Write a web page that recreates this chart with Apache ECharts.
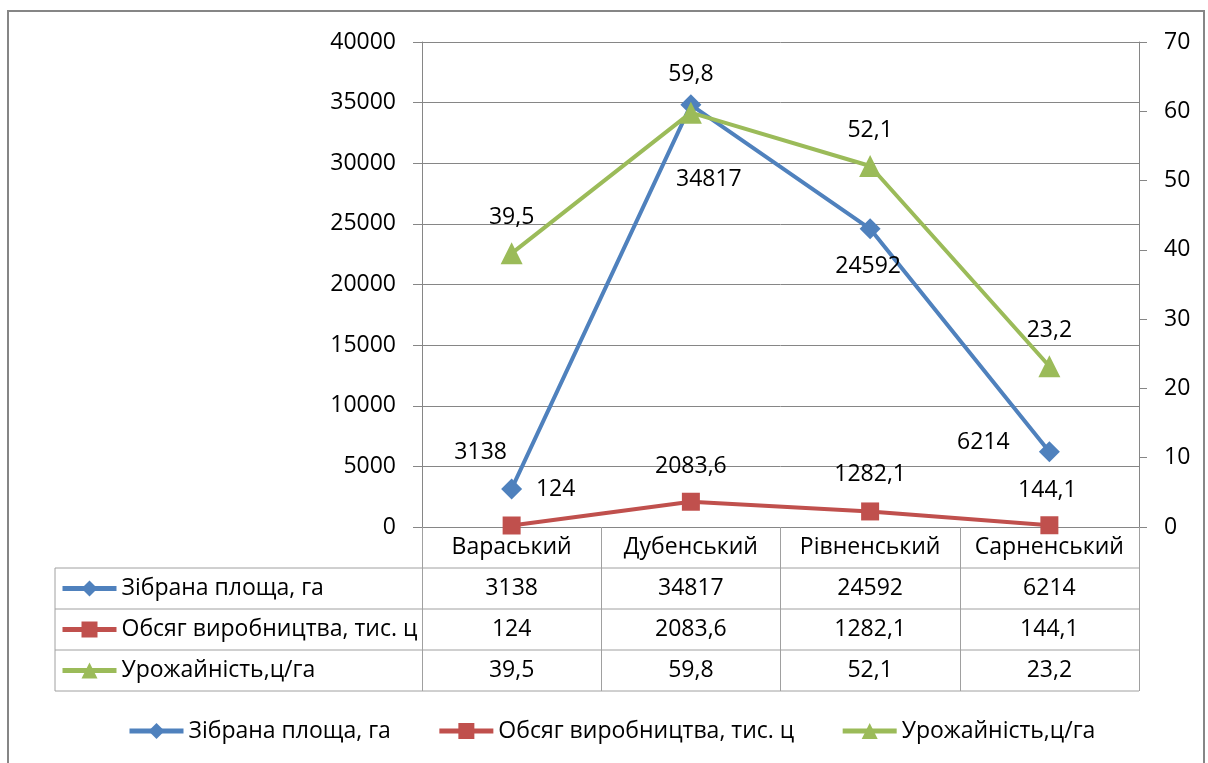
<!DOCTYPE html>
<html>
<head>
<meta charset="utf-8">
<script src="https://cdn.jsdelivr.net/npm/echarts@6/dist/echarts.min.js"></script>
<style>
  html, body { margin: 0; padding: 0; background: #fff; }
  #chart { width: 1208px; height: 763px; }
</style>
</head>
<body>
<div id="chart"></div>
<script>
// дані по районах
const categories = ["Вараський", "Дубенський", "Рівненський", "Сарненський"]
const seriesNames = ["Зібрана площа, га", "Обсяг виробництва, тис. ц", "Урожайність,ц/га"]
const area = [3138, 34817, 24592, 6214]
const output = [124, 2083.6, 1282.1, 144.1]
const yieldHa = [39.5, 59.8, 52.1, 23.2]

// зміщення підписів (як в Excel)
const areaOff = [[-31, -36], [18, 75], [-2, 38], [-66, -9]]
const outputOff = [[44, -36], [0, -35], [0, -37], [-2, -35]]
const yieldOff = [[0, -36], [0, -38], [0, -36], [0, -36]]

const font = "Open Sans"
const fs = 23
const gridLeft = 422, gridRight = 1139, axisY = 527, rowH = 41

function fmt(v) {
  return String(v).replace(".", ",")
}

function withLabels(vals, offs) {
  return vals.map((v, i) => ({ value: v, label: { offset: offs[i] } }))
}

let myChart = echarts.init(document.getElementById("chart"))

// лінії таблиці даних
let tableLines = []
for (let k = 1; k <= 4; k++) {
  tableLines.push({
    type: "line",
    shape: { x1: 55, y1: axisY + k * rowH, x2: gridRight, y2: axisY + k * rowH },
    style: { stroke: "#a0a0a0", lineWidth: 1 }
  })
}
tableLines.push({
  type: "line",
  shape: { x1: 55, y1: axisY + rowH, x2: 55, y2: axisY + 4 * rowH },
  style: { stroke: "#a0a0a0", lineWidth: 1 }
})

let rowValues = [area, output, yieldHa]
let tableAxes = rowValues.map((vals, r) => ({
  type: "category",
  data: categories,
  gridIndex: 0,
  position: "bottom",
  offset: (r + 1) * rowH,
  axisLine: { show: false },
  axisTick: { show: false },
  splitLine: { show: false },
  axisLabel: {
    interval: 0,
    margin: rowH / 2,
    verticalAlign: "middle",
    fontFamily: font,
    fontSize: fs,
    color: "#000",
    formatter: (val, idx) => fmt(vals[idx])
  }
}))

let labelBase = {
  show: true,
  position: "inside",
  fontFamily: font,
  fontSize: fs,
  color: "#000",
  formatter: (p) => fmt(p.value)
}

let legendBase = {
  data: seriesNames,
  padding: 0,
  itemWidth: 54,
  itemHeight: 20,
  selectedMode: false,
  lineStyle: { width: 5 }
}

myChart.setOption({
  animation: false,
  textStyle: { fontFamily: font },
  grid: { left: gridLeft, right: 1208 - gridRight, top: 42, bottom: 763 - axisY },
  legend: [
    {
      ...legendBase,
      left: 127,
      top: 718,
      itemGap: 46,
      textStyle: { fontFamily: font, fontSize: fs, color: "#000", lineHeight: 26 }
    },
    {
      ...legendBase,
      orient: "vertical",
      left: 60,
      top: axisY + rowH,
      itemGap: 0,
      textStyle: { fontFamily: font, fontSize: fs, color: "#000", lineHeight: rowH }
    }
  ],
  xAxis: [
    {
      type: "category",
      data: categories,
      boundaryGap: true,
      axisLine: { lineStyle: { color: "#868686", width: 1 } },
      axisTick: { show: true, interval: 0, length: 4 * rowH, lineStyle: { color: "#a0a0a0" } },
      axisLabel: {
        interval: 0,
        margin: rowH / 2,
        verticalAlign: "middle",
        fontFamily: font,
        fontSize: fs,
        color: "#000"
      }
    },
    ...tableAxes
  ],
  yAxis: [
    {
      type: "value",
      min: 0,
      max: 40000,
      interval: 5000,
      axisLine: { show: true, lineStyle: { color: "#868686" } },
      axisTick: { show: true, length: 9, lineStyle: { color: "#868686" } },
      splitLine: { lineStyle: { color: "#868686", width: 1 } },
      axisLabel: { margin: 26, fontFamily: font, fontSize: fs, color: "#000", formatter: (v) => String(v) }
    },
    {
      type: "value",
      position: "right",
      min: 0,
      max: 70,
      interval: 10,
      axisLine: { show: true, lineStyle: { color: "#868686" } },
      axisTick: { show: true, length: 8, lineStyle: { color: "#868686" } },
      splitLine: { show: false },
      axisLabel: { margin: 25, fontFamily: font, fontSize: fs, color: "#000", formatter: (v) => String(v) }
    }
  ],
  series: [
    {
      name: seriesNames[0],
      type: "line",
      yAxisIndex: 0,
      data: withLabels(area, areaOff),
      symbol: "diamond",
      symbolSize: 21,
      itemStyle: { color: "#4F81BD" },
      lineStyle: { color: "#4F81BD", width: 4 },
      label: labelBase
    },
    {
      name: seriesNames[1],
      type: "line",
      yAxisIndex: 0,
      data: withLabels(output, outputOff),
      symbol: "rect",
      symbolSize: 18,
      itemStyle: { color: "#C0504D" },
      lineStyle: { color: "#C0504D", width: 4 },
      label: labelBase
    },
    {
      name: seriesNames[2],
      type: "line",
      yAxisIndex: 1,
      data: withLabels(yieldHa, yieldOff),
      symbol: "triangle",
      symbolSize: 22,
      itemStyle: { color: "#9BBB59" },
      lineStyle: { color: "#9BBB59", width: 4 },
      label: labelBase
    }
  ],
  graphic: [
    {
      type: "rect",
      shape: { x: 8, y: 11, width: 1196, height: 800 },
      style: { fill: "none", stroke: "#868686", lineWidth: 2 },
      silent: true
    },
    ...tableLines
  ]
})
</script>
</body>
</html>
